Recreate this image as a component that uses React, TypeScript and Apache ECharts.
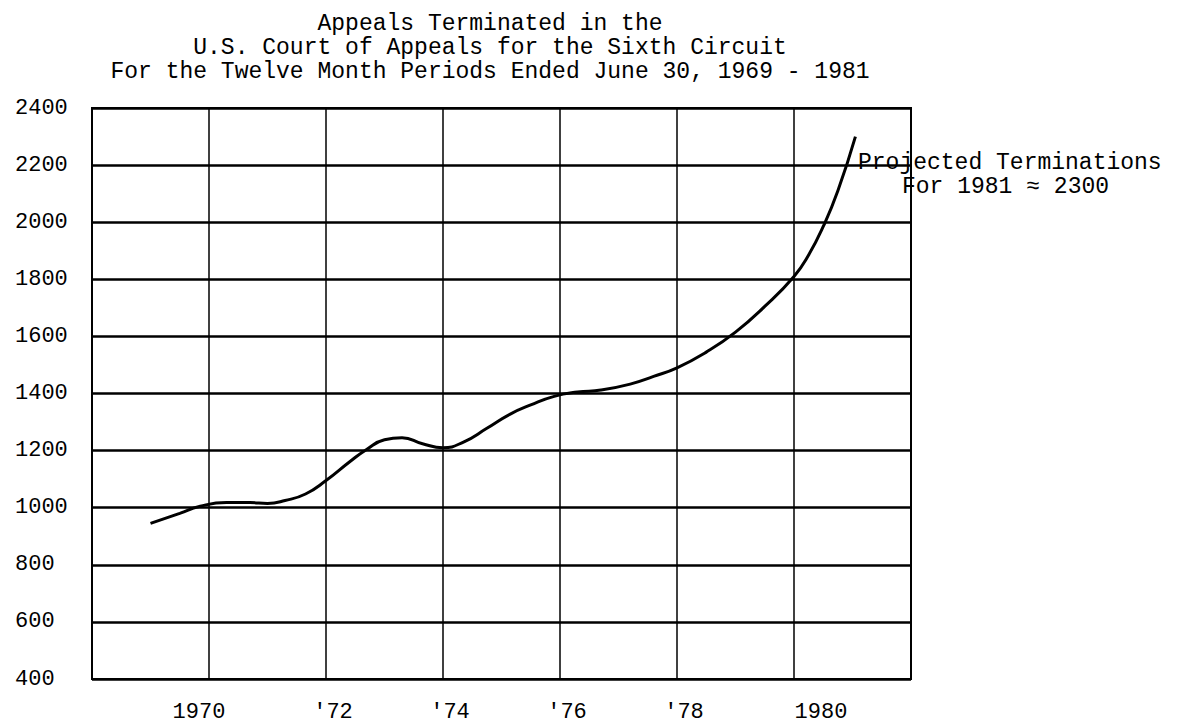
import React, { useEffect, useRef } from "react";
import * as echarts from "echarts";

const titleLines = [
  "Appeals Terminated in the",
  "U.S. Court of Appeals for the Sixth Circuit",
  "For the Twelve Month Periods Ended June 30, 1969 - 1981",
];
const noteLines = ["Projected Terminations", "For 1981 \u2248 2300"];

const yTicks = [400, 600, 800, 1000, 1200, 1400, 1600, 1800, 2000, 2200, 2400];
const xTickLabels: Record<number, string> = {
  1970: "1970",
  1972: "'72",
  1974: "'74",
  1976: "'76",
  1978: "'78",
  1980: "1980",
};

const years = [
  1969.0, 1969.5, 1969.85, 1970.3, 1970.7, 1971.0, 1971.3, 1971.65, 1972.0,
  1972.4, 1972.7, 1973.0, 1973.3, 1973.65, 1974.0, 1974.35, 1974.75, 1975.15,
  1975.5, 1975.9, 1976.3, 1976.7, 1977.2, 1977.6, 1978.0, 1978.5, 1979.0,
  1979.5, 1980.0, 1980.25, 1980.5, 1980.75, 1981.05,
];
const terminations = [
  945, 980, 1005, 1018, 1018, 1015, 1025, 1048, 1095, 1160, 1205, 1238, 1245,
  1224, 1210, 1230, 1278, 1328, 1360, 1390, 1405, 1412, 1433, 1460, 1490, 1545,
  1615, 1705, 1810, 1885, 1985, 2110, 2300,
];

const FONT = "'Liberation Mono', 'DejaVu Sans Mono', monospace";

export default function App() {
  const ref = useRef<HTMLDivElement>(null);
  useEffect(() => {
    if (!ref.current) return;
    const chart = echarts.init(ref.current, undefined, { renderer: "svg" });
    const labelRich = {
      l: { padding: [0, 20, 0, 0] },
      m: { padding: [0, 0, 0, 14] },
      r: { padding: [0, 0, 0, 54] },
    };
    chart.setOption({
      animation: false,
      backgroundColor: "#ffffff",
      grid: {
        left: 92,
        right: 270,
        top: 108,
        bottom: 46,
        show: true,
        borderColor: "#000",
        borderWidth: 2,
      },
      xAxis: {
        type: "value",
        min: 1968,
        max: 1982,
        interval: 2,
        axisLine: { show: true, lineStyle: { color: "#000", width: 2 } },
        axisTick: { show: false },
        splitLine: { show: true, lineStyle: { color: "#000", width: 1.5 } },
        axisLabel: {
          margin: 22,
          color: "#000",
          fontFamily: FONT,
          fontSize: 22,
          rich: labelRich,
          formatter: (v: number) => {
            const t = xTickLabels[v];
            if (!t) return "";
            const k = v === 1970 ? "l" : v === 1980 ? "r" : "m";
            return `{${k}|${t}}`;
          },
        },
      },
      yAxis: {
        type: "value",
        min: yTicks[0],
        max: yTicks[yTicks.length - 1],
        interval: 200,
        axisLine: { show: true, lineStyle: { color: "#000", width: 2 } },
        axisTick: { show: false },
        splitLine: { show: true, lineStyle: { color: "#000", width: 2.5 } },
        axisLabel: {
          margin: 77,
          align: "left",
          color: "#000",
          fontFamily: FONT,
          fontSize: 22,
          formatter: (v: number) => String(v),
        },
      },
      series: [
        {
          type: "line",
          data: years.map((y, i) => [y, terminations[i]]),
          smooth: 0.5,
          showSymbol: false,
          lineStyle: { color: "#000", width: 3 },
        },
      ],
      graphic: [
        {
          type: "text",
          x: 490,
          y: 12,
          style: {
            text: titleLines.join("\n"),
            fill: "#000",
            font: `23px ${FONT}`,
            lineHeight: 24,
            textAlign: "center",
            textVerticalAlign: "top",
          },
        },
        {
          type: "text",
          x: 858,
          y: 163,
          style: {
            text: noteLines[0],
            fill: "#000",
            font: `23px ${FONT}`,
            textAlign: "left",
            textVerticalAlign: "middle",
          },
        },
        {
          type: "text",
          x: 902,
          y: 187,
          style: {
            text: noteLines[1],
            fill: "#000",
            font: `23px ${FONT}`,
            textAlign: "left",
            textVerticalAlign: "middle",
          },
        },
      ],
    });
    return () => chart.dispose();
  }, []);
  return (
    <div
      ref={ref}
      style={{ position: "fixed", left: 0, top: 0, width: 1181, height: 725 }}
    />
  );
}
